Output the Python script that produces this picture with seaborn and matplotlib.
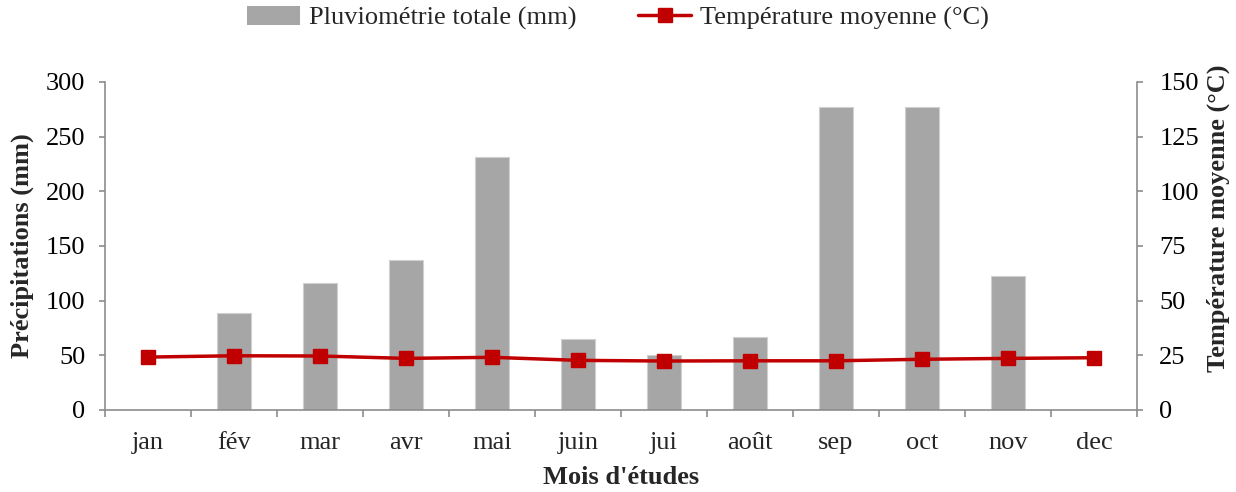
import numpy as np
import pandas as pd
import matplotlib
matplotlib.use("Agg")
import matplotlib.pyplot as plt
import seaborn as sns
from matplotlib.patches import Patch
from matplotlib.lines import Line2D

months = ["jan", "fév", "mar", "avr", "mai", "juin", "jui", "août", "sep", "oct", "nov", "dec"]
rain_mm = [0, 88.5, 116.5, 137, 231.5, 64.5, 50.5, 67, 277.5, 277.5, 122.5, 0]
temp_c = [24.2, 24.8, 24.7, 23.6, 24.1, 22.7, 22.4, 22.5, 22.5, 23.2, 23.6, 23.9]

sns.set_style("white")
plt.rcParams['font.family'] = ['Liberation Serif', 'DejaVu Serif']

FS = 19
df = pd.DataFrame({"mois": months, "pluie": rain_mm, "temp": temp_c})

fig = plt.figure(figsize=(12.36, 4.92), dpi=100)
ax = fig.add_axes([105/1236, 1 - 410/492, (1137-105)/1236, (410-82)/492])

sns.barplot(data=df, x="mois", y="pluie", order=months, color="#a6a6a6",
            width=0.4, saturation=1, ax=ax, edgecolor="#d0d0d0", linewidth=0.8)
ax.set_ylim(0, 300)
ax.set_xlim(-0.5, 11.5)
ax.set_yticks(np.arange(0, 301, 50))
ax.set_xlabel("Mois d'études", fontsize=FS, fontweight="bold")
ax.xaxis.set_label_coords(0.5, -0.17)
ax.set_ylabel("Précipitations (mm)", fontsize=FS, fontweight="bold",
              va="center", ha="center")
ax.yaxis.set_label_coords(-0.080, 0.5)

ax2 = ax.twinx()
ax2.plot(np.arange(len(months)), temp_c, color="#c00000", lw=2.5, marker="s",
         markersize=9.5, markerfacecolor="#c00000", markeredgecolor="#c00000")
ax2.set_ylim(0, 150)
ax2.set_yticks(np.arange(0, 151, 25))
ax2.set_ylabel("Température moyenne (°C)", fontsize=FS, fontweight="bold",
               rotation=90, va="center", ha="center")
ax2.yaxis.set_label_coords(1.0785, 0.585)

spine_c = "#8c8c8c"
for a in (ax, ax2):
    for s in a.spines.values():
        s.set_color(spine_c)
        s.set_linewidth(1.2)
    a.spines["top"].set_visible(False)
    a.tick_params(axis="both", labelsize=FS, colors="black", length=4, width=1.2,
                  color=spine_c, direction="out")
ax.spines["right"].set_visible(False)
ax2.spines["left"].set_visible(False)
ax2.spines["bottom"].set_visible(False)
ax.tick_params(axis="y", left=True, pad=10)
ax2.tick_params(axis="y", right=True, pad=12)

# x ticks at category boundaries, labels at centres
ax.set_xticks(np.arange(-0.5, 12, 1), minor=False)
ax.set_xticklabels([])
ax.tick_params(axis="x", which="major", bottom=True, length=5)
ax.set_xticks(np.arange(12), minor=True)
ax.set_xticklabels(months, minor=True)
ax.tick_params(axis="x", which="minor", length=0, labelsize=FS, pad=16)

handles = [Patch(facecolor="#a6a6a6", edgecolor="none"),
           Line2D([0], [0], color="#c00000", lw=2.5, marker="s", markersize=9.5)]
labels = ["Pluviométrie totale (mm)", "Température moyenne (°C)"]
fig.legend(handles, labels, loc="center", bbox_to_anchor=(0.5, 1 - 18/492),
           ncol=2, frameon=False, fontsize=FS, handlelength=2.0, columnspacing=2.35,
           handletextpad=0.35, borderpad=0.2)

fig.savefig("out.png", dpi=100)
